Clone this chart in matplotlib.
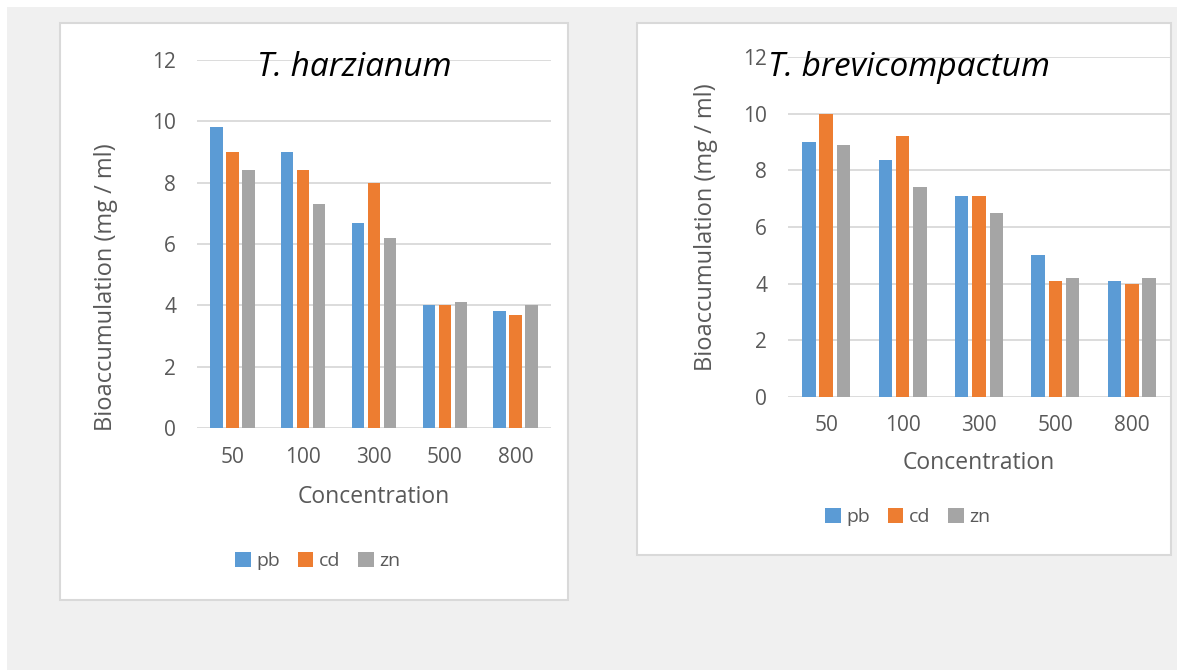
import matplotlib.pyplot as plt
import matplotlib.patches as mpatches
import numpy as npy

plt.rcParams['font.family'] = ['Open Sans', 'DejaVu Sans']

concs = ["50", "100", "300", "500", "800"]
metals = ["pb", "cd", "zn"]
colors = ['#5B9BD5', '#ED7D31', '#A5A5A5']

harz_pb = [9.8, 9.0, 6.7, 4.0, 3.8]
harz_cd = [9.0, 8.4, 8.0, 4.0, 3.7]
harz_zn = [8.4, 7.3, 6.2, 4.1, 4.0]

brev_pb = [9.0, 8.35, 7.1, 5.0, 4.1]
brev_cd = [10.0, 9.2, 7.1, 4.1, 4.0]
brev_zn = [8.9, 7.4, 6.5, 4.2, 4.2]

W, H = 1177, 670
fig = plt.figure(figsize=(W/100, H/100), dpi=100)
fig.patch.set_facecolor('white')

def frac(x0, y0, x1, y1):
    # pixel box (top-left origin) -> figure fraction rect
    return [x0/W, 1 - y1/H, (x1-x0)/W, (y1-y0)/H]

# gray page + white chart boxes
fig.patches.append(mpatches.Rectangle((7/W, 0), 1 - 7/W, 1 - 7/H, transform=fig.transFigure,
                                      facecolor='#F0F0F0', edgecolor='none', zorder=-3))
for (x0, y0, x1, y1) in [(60, 23, 568, 600), (637, 23, 1171, 555)]:
    r = frac(x0, y0, x1, y1)
    fig.patches.append(mpatches.Rectangle((r[0], r[1]), r[2], r[3], transform=fig.transFigure,
                                          facecolor='white', edgecolor='#D9D9D9', lw=1.5, zorder=-2))

def draw(rect, series, title, title_xy, ylab_xy, xpad, xlabpad, leg_xy):
    ax = fig.add_axes(frac(*rect))
    ax.set_facecolor('none')
    x = npy.arange(len(concs))
    bw = 0.177
    step = 0.226
    for i, vals in enumerate(series):
        ax.bar(x + (i-1)*step, vals, bw, color=colors[i], label=metals[i], zorder=3)
    ax.set_xlim(-0.5, 4.5)
    ax.set_ylim(0, 12)
    ax.set_yticks(range(0, 13, 2))
    ax.set_xticks(x)
    ax.set_xticklabels(concs)
    ax.grid(axis='y', color='#D9D9D9', lw=1.3, zorder=0)
    for s in ax.spines.values():
        s.set_visible(False)
    ax.tick_params(length=0, labelsize=15, colors='#595959')
    ax.tick_params(axis='y', pad=15)
    ax.tick_params(axis='x', pad=xpad)
    ax.set_xlabel('Concentration', fontsize=16.5, color='#595959', labelpad=xlabpad)
    ax.set_ylabel('Bioaccumulation (mg / ml)', fontsize=17, color='#595959')
    ax.yaxis.set_label_coords(ylab_xy[0]/W, 1 - ylab_xy[1]/H, transform=fig.transFigure)
    fig.text(title_xy[0]/W, 1 - title_xy[1]/H, title, fontsize=24, style='italic',
             ha='center', va='center', color='black')
    ax.legend(loc='center', bbox_to_anchor=(leg_xy[0]/W, 1 - leg_xy[1]/H),
              bbox_transform=fig.transFigure, ncol=3, frameon=False, fontsize=14,
              handlelength=0.8, handleheight=0.8, handletextpad=0.3,
              columnspacing=0.9, labelcolor='#595959')
    return ax

draw((197, 60, 551, 428), [harz_pb, harz_cd, harz_zn], 'T. harzianum', (354, 68),
     (118, 287), 14, 12, (318, 561))
draw((788, 57, 1170, 397), [brev_pb, brev_cd, brev_zn], 'T. brevicompactum', (909, 68),
     (718, 227), 13, 11, (908, 517))

fig.savefig('out.png', dpi=100)
